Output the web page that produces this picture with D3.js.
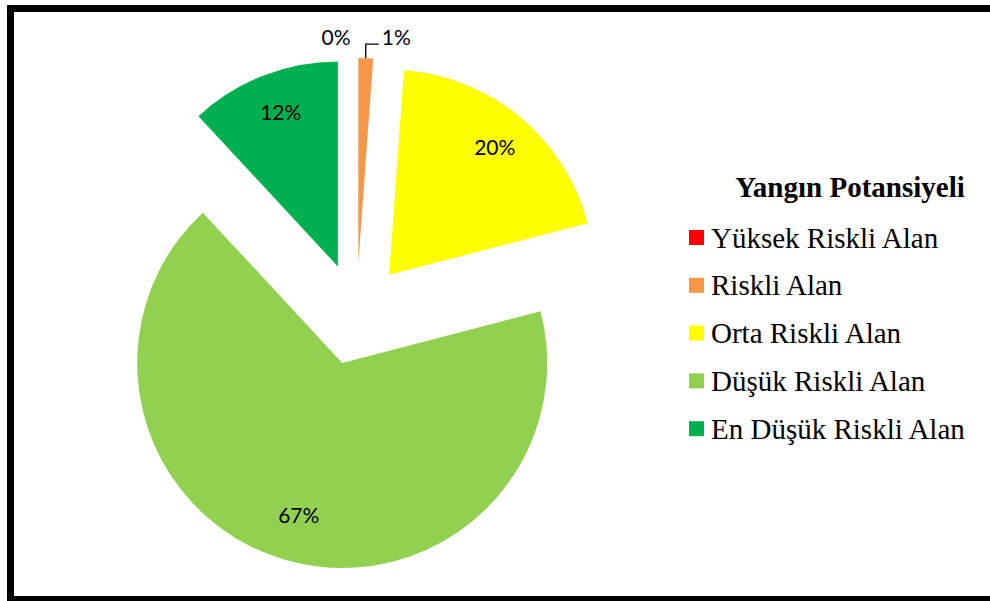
<!DOCTYPE html>
<html>
<head>
<meta charset="utf-8">
<script src="https://cdn.jsdelivr.net/npm/d3@7"></script>
<style>
  html, body { margin: 0; padding: 0; background: #fff; }
  svg { display: block; }
  .legend text { font-family: "Liberation Serif", "Times New Roman", serif; }
  .lbl { font-family: Lato, "Liberation Sans", sans-serif; font-size: 21px; }
</style>
</head>
<body>
<svg id="chart" width="990" height="601"></svg>
<script>
// Fire potential classes and their share of the area (%)
const categories = ["Yüksek Riskli Alan", "Riskli Alan", "Orta Riskli Alan", "Düşük Riskli Alan", "En Düşük Riskli Alan"];
const shares = [0, 1.15, 19.8, 67.15, 11.9];
const colors = ["#FF0000", "#F79646", "#FFFF00", "#92D050", "#00B050"];
const legendTitle = "Yangın Potansiyeli";

const svg = d3.select("#chart");

// outer frame
svg.append("rect")
  .attr("x", 10.5).attr("y", 8.5)
  .attr("width", 985).attr("height", 591)
  .attr("fill", "none").attr("stroke", "#000").attr("stroke-width", 7);

const cx = 356.5, cy = 314, R = 205, explode = 51;

const pie = d3.pie().sort(null).value(d => d);
const arcs = pie(shares);
const arc = d3.arc().innerRadius(0).outerRadius(R);
const total = d3.sum(shares);
const pct = v => Math.round(v / total * 100) + "%";

const offset = (d, dist) => {
  const a = (d.startAngle + d.endAngle) / 2;
  return [Math.sin(a) * dist, -Math.cos(a) * dist];
};

const g = svg.append("g").attr("transform", `translate(${cx},${cy})`);

// every slice pulled out from the centre along its bisector
const slices = g.selectAll("g.slice").data(arcs).enter().append("g")
  .attr("class", "slice")
  .attr("transform", d => { const [x, y] = offset(d, explode); return `translate(${x},${y})`; });

slices.append("path")
  .attr("d", arc)
  .attr("fill", (d, i) => colors[i]);

// labels inside the larger slices
slices.filter(d => d.value >= 5).append("text")
  .attr("class", "lbl")
  .attr("x", d => offset(d, R * 0.79)[0] + 2)
  .attr("y", d => offset(d, R * 0.79)[1] - 4)
  .attr("text-anchor", "middle")
  .attr("dominant-baseline", "central")
  .attr("fill", "#000")
  .text(d => pct(d.value));

// labels above the thin slices at the top
const small = arcs.filter(d => d.value < 5);
small.forEach((d, k) => {
  const [ex, ey] = offset(d, explode);
  const [ox, oy] = offset(d, R);
  const ax = ex + ox, ay = ey + oy;
  if (k === small.length - 1) {
    // leader line to the label on the right
    g.append("path")
      .attr("d", `M${ax},${ay} V${ay - 14} H${ax + 13}`)
      .attr("fill", "none").attr("stroke", "#000").attr("stroke-width", 1.3);
    g.append("text")
      .attr("class", "lbl")
      .attr("x", ax + 16).attr("y", ay - 22)
      .attr("dominant-baseline", "central")
      .text(pct(d.value));
  } else {
    g.append("text")
      .attr("class", "lbl")
      .attr("x", ax - 6).attr("y", ay - 22)
      .attr("text-anchor", "end")
      .attr("dominant-baseline", "central")
      .text(pct(d.value));
  }
});

// legend
const lx = 689, ly0 = 247.5, step = 47.8, sw = 15;
const legend = svg.append("g").attr("class", "legend");

const items = legend.selectAll("g.item").data(categories).enter().append("g")
  .attr("class", "item")
  .attr("transform", (d, i) => `translate(${lx},${ly0 + i * step})`);

items.append("rect")
  .attr("x", 0).attr("y", -17.5)
  .attr("width", sw).attr("height", sw)
  .attr("fill", (d, i) => colors[i]);

const texts = items.append("text")
  .attr("x", 22).attr("y", 0)
  .attr("font-size", 29)
  .attr("fill", "#000")
  .text(d => d);

let maxW = 0;
texts.each(function () { maxW = Math.max(maxW, this.getComputedTextLength()); });

legend.append("text")
  .attr("x", lx + 22 + maxW).attr("y", 197)
  .attr("text-anchor", "end")
  .attr("font-size", 29)
  .attr("font-weight", "bold")
  .attr("fill", "#000")
  .text(legendTitle);
</script>
</body>
</html>
